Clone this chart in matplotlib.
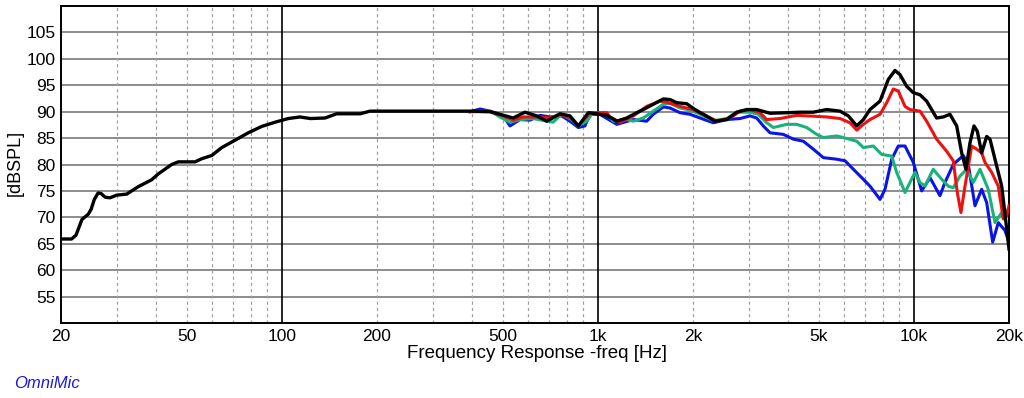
import numpy as np
import matplotlib.pyplot as plt

plt.rcParams['font.family'] = ['Liberation Sans', 'DejaVu Sans']

# black trace (full range)
freq_black = [20, 21.6, 22.3, 23.3, 24.4, 24.9, 25.5, 26.2, 26.8, 27.6, 28.6, 30.0, 32.3, 35.1,
              38.7, 40.6, 44.8, 47.0, 53.1, 55.8, 60.0, 64.5, 71.1, 78.3, 86.3, 95.1, 104.8, 114,
              123, 137, 149, 177, 190, 394, 456, 490, 539, 588, 640, 689, 759, 816, 867, 933,
              1015, 1067, 1147, 1234, 1327, 1392, 1497, 1611, 1691, 1776, 1911, 2029, 2156, 2348,
              2557, 2750, 2957, 3181, 3506, 3960, 4363, 4806, 5298, 5839, 6204, 6595, 6920, 7264,
              7814, 8301, 8714, 9038, 9490, 9958, 10455, 10974, 11804, 12390, 13009, 13660, 14166,
              14617, 15051, 15495, 15874, 16389, 16996, 17412, 18286, 18964, 19667, 20000]
spl_black = [65.9, 65.9, 66.6, 69.6, 70.6, 71.5, 73.4, 74.6, 74.5, 73.8, 73.7, 74.2, 74.4, 75.8,
             77.1, 78.2, 80.0, 80.5, 80.5, 81.1, 81.7, 83.2, 84.6, 86.0, 87.2, 88.0, 88.7, 89.0,
             88.7, 88.8, 89.6, 89.6, 90.1, 90.1, 90.0, 89.5, 88.8, 89.9, 89.2, 88.2, 89.6, 89.2,
             87.3, 89.8, 89.5, 89.3, 88.2, 88.8, 89.8, 90.4, 91.4, 92.4, 92.3, 91.7, 91.5, 90.4,
             89.5, 88.2, 88.5, 89.9, 90.4, 90.4, 89.7, 89.8, 89.9, 89.9, 90.4, 90.1, 89.2, 87.3,
             88.5, 90.4, 92.0, 96.1, 97.8, 97.0, 94.8, 93.6, 93.2, 92.0, 88.8, 89.0, 89.5, 87.3,
             82.2, 79.1, 84.1, 87.3, 86.3, 82.2, 85.3, 84.8, 79.7, 75.9, 67.8, 64.0]

# red trace
freq_red = [394, 456, 502, 539, 580, 640, 706, 759, 826, 867, 944, 1067, 1093, 1175, 1295, 1427,
            1572, 1651, 1820, 2000, 2210, 2377, 2619, 2817, 3030, 3258, 3422, 3771, 4260, 4581,
            5298, 5839, 6280, 6595, 6920, 7264, 7814, 8205, 8608, 8927, 9373, 9720, 10455, 10974,
            11804, 12699, 13325, 13720, 14094, 14512, 15240, 15805, 16389, 16790, 17630, 18498,
            19184, 19667, 20000]
spl_red = [90.0, 90.0, 89.2, 88.4, 89.0, 89.0, 88.8, 89.5, 88.7, 87.3, 89.8, 89.8, 89.0, 88.0,
           89.2, 91.0, 92.0, 91.8, 91.0, 90.4, 89.2, 88.2, 88.8, 90.1, 90.4, 89.8, 88.5, 88.7,
           89.3, 89.2, 89.0, 88.7, 87.9, 86.5, 87.6, 88.5, 89.5, 91.7, 94.3, 93.9, 91.0, 90.4,
           90.1, 88.2, 84.8, 82.5, 80.7, 74.7, 70.9, 75.9, 83.5, 82.9, 82.2, 80.4, 78.5, 75.9,
           69.7, 70.3, 72.2]

# green trace
freq_green = [394, 456, 490, 527, 567, 623, 721, 768, 826, 867, 922, 965, 1067, 1119, 1234, 1295,
              1392, 1497, 1611, 1691, 1820, 1957, 2105, 2319, 2557, 2750, 3030, 3218, 3422, 3591,
              3960, 4260, 4581, 4927, 5168, 5699, 5981, 6595, 6920, 7442, 7910, 8508, 8823, 9258,
              9373, 9720, 10080, 10455, 10840, 11514, 12247, 12856, 13325, 13991, 14690, 15417,
              16190, 17197, 18060, 18964, 20000]
spl_green = [90.0, 90.1, 89.0, 88.0, 88.5, 88.7, 88.0, 89.5, 88.5, 87.3, 88.2, 89.8, 89.5, 88.2,
             88.5, 88.2, 88.8, 90.1, 91.4, 91.6, 90.7, 90.3, 89.5, 88.3, 88.7, 89.9, 89.9, 89.5,
             87.9, 87.0, 87.6, 87.6, 87.0, 85.7, 85.1, 85.4, 85.1, 84.4, 83.2, 83.5, 81.9, 81.6,
             78.5, 75.5, 74.7, 76.6, 78.5, 76.6, 75.9, 79.1, 77.2, 75.9, 75.6, 77.8, 79.1, 76.6,
             79.1, 75.3, 69.0, 70.9, 71.5]

# blue trace
freq_blue = [394, 424, 456, 502, 527, 567, 610, 656, 706, 768, 816, 867, 910, 944, 1015, 1147,
             1295, 1427, 1497, 1611, 1691, 1820, 1957, 2105, 2319, 2557, 2817, 3030, 3181, 3338,
             3506, 3863, 4155, 4470, 4806, 5168, 5699, 6056, 6434, 6920, 7264, 7814, 8103, 8508,
             8927, 9373, 9958, 10584, 11247, 12094, 12541, 13325, 14333, 14865, 15610, 16389,
             16996, 17757, 18498, 19423, 20000]
spl_blue = [90.0, 90.5, 90.1, 89.2, 87.3, 88.5, 88.4, 89.3, 89.0, 89.2, 88.2, 87.0, 87.3, 89.5,
            89.5, 87.6, 88.5, 88.2, 89.5, 90.9, 90.7, 89.8, 89.5, 88.8, 87.9, 88.5, 88.7, 89.2,
            88.8, 87.3, 86.0, 85.7, 84.8, 84.4, 82.9, 81.3, 81.0, 80.7, 79.1, 77.2, 75.9, 73.4,
            75.3, 81.0, 83.5, 83.5, 80.4, 75.0, 77.5, 74.1, 76.6, 80.0, 81.7, 80.0, 72.2, 75.3,
            72.8, 65.3, 69.0, 67.5, 65.3]

xtick_vals = [20, 50, 100, 200, 500, 1000, 2000, 5000, 10000, 20000]
xtick_labels = ['20', '50', '100', '200', '500', '1k', '2k', '5k', '10k', '20k']
ytick_vals = [55, 60, 65, 70, 75, 80, 85, 90, 95, 100, 105]
decades = [100, 1000, 10000]
minor_lines = [30, 40, 50, 60, 70, 80, 90, 200, 300, 400, 500, 600, 700, 800, 900,
               2000, 3000, 4000, 5000, 6000, 7000, 8000, 9000]

fig = plt.figure(figsize=(10.24, 3.98), dpi=100)
ax = fig.add_axes([61/1024, 1 - 323/398, (1009 - 61)/1024, (323 - 6)/398])
ax.set_xscale('log')
ax.set_xlim(20, 20000)
ax.set_ylim(50, 110)

# grid
for y in ytick_vals + [50, 110]:
    ax.axhline(y, color='#8c8c8c', lw=1.4, zorder=1)
for f in minor_lines:
    ax.axvline(f, color='#a0a0a0', lw=0.9, ls=(0, (2.5, 2.5)), zorder=1)
for f in decades:
    ax.axvline(f, color='black', lw=1.2, zorder=1)

ax.plot(freq_blue, spl_blue, color='#0a14e6', lw=2.2, zorder=3)
ax.plot(freq_green, spl_green, color='#19b27a', lw=2.2, zorder=3)
ax.plot(freq_red, spl_red, color='#ee1111', lw=2.2, zorder=3)
ax.plot(freq_black, spl_black, color='black', lw=2.4, zorder=4)

ax.set_xticks(xtick_vals)
ax.set_xticklabels(xtick_labels)
ax.set_xticks([], minor=True)
ax.set_yticks(ytick_vals)
ax.tick_params(length=0, labelsize=12.5, pad=4)
for s in ax.spines.values():
    s.set_linewidth(1.4)

fig.text(537/1024, 1 - 354/398, 'Frequency Response -freq [Hz]', ha='center', va='center', fontsize=13.5)
fig.text(15/1024, 1 - 163/398, '[dBSPL]', rotation=90, ha='center', va='center', fontsize=13)
fig.text(14/1024, 1 - 383/398, 'OmniMic', color='#1a1ad6', style='italic', ha='left', va='center', fontsize=12)

fig.savefig('out.png', dpi=100)
